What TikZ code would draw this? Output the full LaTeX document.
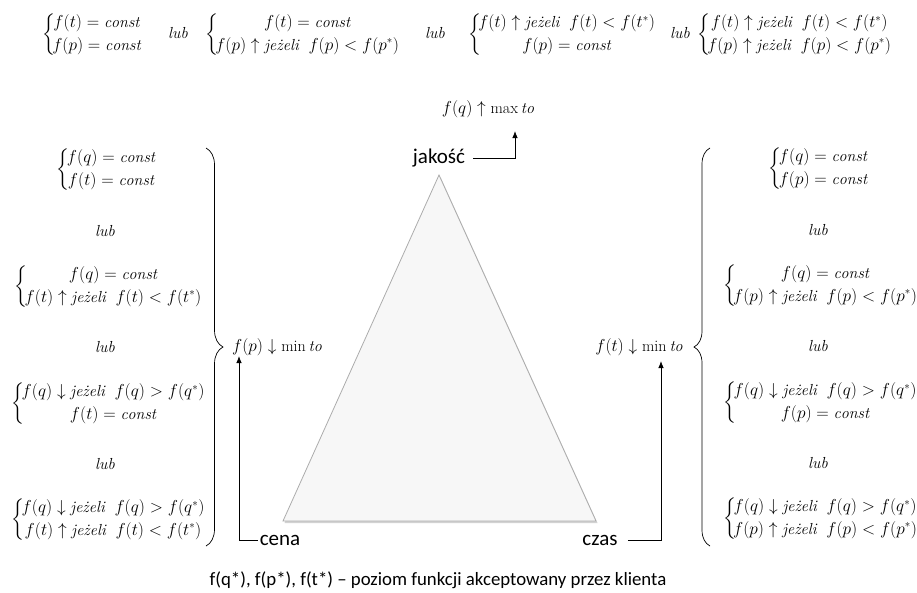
\documentclass[tikz,border=0pt]{standalone}
\usepackage{amsmath}
\usepackage{fontspec}
\newfontfamily\calfont{Carlito}
\usetikzlibrary{decorations.pathreplacing,arrows.meta}
\newcommand{\jz}{\text{\itshape jeżeli}}
\newcommand{\sysb}[2]{$\bigg\{\!\renewcommand\arraystretch{0.8}\begin{array}{@{}c@{}}#1\\[4.4pt]#2\end{array}$}
\newcommand{\lubw}{\textit{lub}}
\begin{document}
\begin{tikzpicture}[x=1pt,y=-1pt,
  sys/.style={inner sep=0pt, font=\fontsize{16}{22}\selectfont},
  lab/.style={inner sep=0pt, font=\calfont\fontsize{21}{24}\selectfont},
  conn/.style={line width=0.8pt, -{Latex[length=7pt,width=5.5pt]}},
  bigbrace/.style={decorate, decoration={brace, amplitude=#1}, line width=0.7pt}]
\useasboundingbox (0,0) rectangle (917,592);
% top row
\node[sys,anchor=west] (t1) at (42,35) {\sysb{f(t)=\mathit{const}}{f(p)=\mathit{const}}};
\node[sys] (tl1) at (178,33) {\lubw};
\node[sys,anchor=west] (t2) at (205,35) {\sysb{f(t)=\mathit{const}}{f(p)\uparrow\jz\ \ f(p)<f(p^*)}};
\node[sys] (tl2) at (435,33) {\lubw};
\node[sys,anchor=west] (t3) at (468,35) {\sysb{f(t)\uparrow\jz\ \ f(t)<f(t^*)}{f(p)=\mathit{const}}};
\node[sys] (tl3) at (680,33) {\lubw};
\node[sys,anchor=west] (t4) at (697,35) {\sysb{f(t)\uparrow\jz\ \ f(t)<f(t^*)}{f(p)\uparrow\jz\ \ f(p)<f(p^*)}};
% left column
\node[sys] (a1) at (106,170) {\sysb{f(q)=\mathit{const}}{f(t)=\mathit{const}}};
\node[sys] (al1) at (105,231) {\lubw};
\node[sys] (a2) at (108,287) {\sysb{f(q)=\mathit{const}}{f(t)\uparrow\jz\ \ f(t)<f(t^*)}};
\node[sys] (al2) at (105,347) {\lubw};
\node[sys] (a3) at (108,404) {\sysb{f(q)\downarrow\jz\ \ f(q)>f(q^*)}{f(t)=\mathit{const}}};
\node[sys] (al3) at (105,464) {\lubw};
\node[sys] (a4) at (108,520) {\sysb{f(q)\downarrow\jz\ \ f(q)>f(q^*)}{f(t)\uparrow\jz\ \ f(t)<f(t^*)}};
% right column
\node[sys] (b1) at (818,169) {\sysb{f(q)=\mathit{const}}{f(p)=\mathit{const}}};
\node[sys] (bl1) at (818,230) {\lubw};
\node[sys] (b2) at (820,286) {\sysb{f(q)=\mathit{const}}{f(p)\uparrow\jz\ \ f(p)<f(p^*)}};
\node[sys] (bl2) at (818,346) {\lubw};
\node[sys] (b3) at (820,403) {\sysb{f(q)\downarrow\jz\ \ f(q)>f(q^*)}{f(p)=\mathit{const}}};
\node[sys] (bl3) at (818,463) {\lubw};
\node[sys] (b4) at (820,519) {\sysb{f(q)\downarrow\jz\ \ f(q)>f(q^*)}{f(p)\uparrow\jz\ \ f(p)<f(p^*)}};
% braces
\draw[bigbrace=17pt] (206,148) -- (206,546);
\draw[bigbrace=16pt] (710,546) -- (710,148);
% triangle
\coordinate (A) at (439,175);
\coordinate (B) at (283,521);
\coordinate (C) at (596,521);
\fill[gray!35] ([xshift=1.5pt,yshift=-2pt]A) -- ([xshift=1.5pt,yshift=-2pt]B) -- ([xshift=1.5pt,yshift=-2pt]C) -- cycle;
\filldraw[fill=gray!6, draw=gray!65, line width=0.8pt] (A) -- (B) -- (C) -- cycle;
% labels
\node[lab] (jak) at (439,158) {jakość};
\node[sys] (fq) at (488,109) {$f(q)\uparrow\mathrm{max}\,\mathit{to}$};
\coordinate (qtip) at (515,131);
\draw[conn] ([xshift=8pt]jak.east) -| (qtip);
\node[lab] (cena) at (280,540) {cena};
\node[sys] (fp) at (277,347) {$f(p)\downarrow\mathrm{min}\,\mathit{to}$};
\coordinate (ptip) at (239,356);
\draw[conn] ([xshift=-2pt]cena.west) -| (ptip);
\node[lab] (czas) at (600,540) {czas};
\coordinate (ttip) at (661,361);
\node[sys] (ft) at (639,347) {$f(t)\downarrow\mathrm{min}\,\mathit{to}$};
\draw[conn] ([xshift=10pt]czas.east) -| (ttip);
% caption
\node[inner sep=0pt, font=\calfont\fontsize{18.8}{22}\selectfont] (cap) at (438,580) {f(q*), f(p*), f(t*) – poziom funkcji akceptowany przez klienta};
\end{tikzpicture}
\end{document}
